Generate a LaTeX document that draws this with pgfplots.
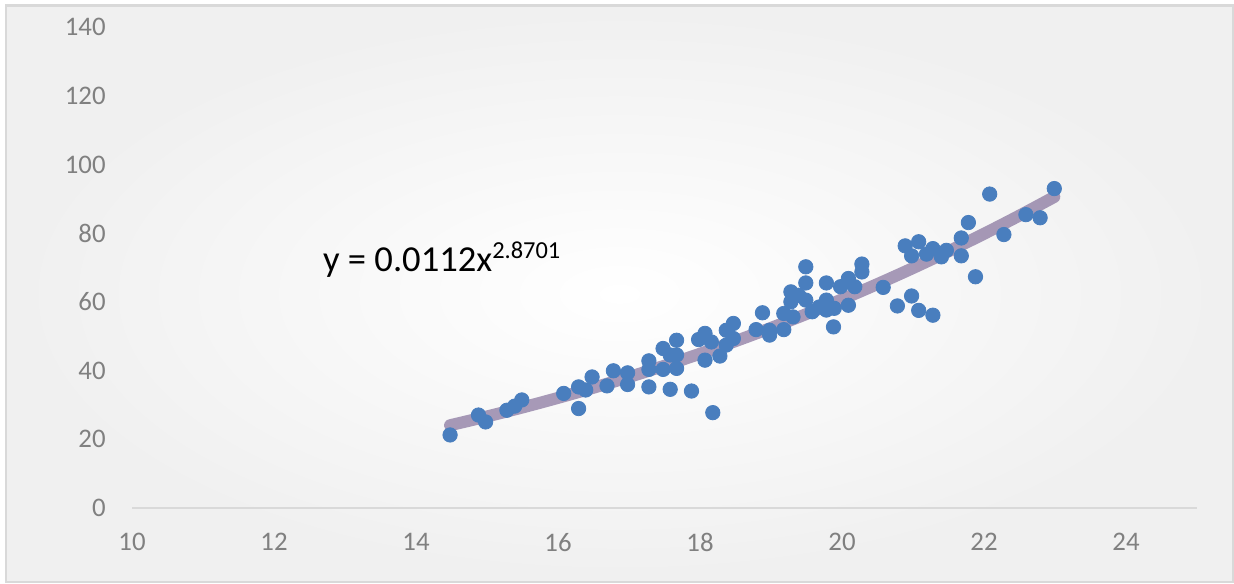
\documentclass[border=0pt]{standalone}
\usepackage{pgfplots}
\pgfplotsset{compat=1.18}
\usepackage{fontspec}
\setmainfont{Carlito}
\definecolor{dotblue}{RGB}{73,126,190}
\definecolor{trendc}{RGB}{100,75,130}
\definecolor{ticklab}{RGB}{128,128,128}
\definecolor{framec}{RGB}{217,217,217}
\begin{document}
\begin{tikzpicture}[x=1pt,y=1pt]
\path[use as bounding box] (0,0) rectangle (617,291.5);
\shade[inner color=white, outer color=black!6] (3,0.5) rectangle (616.5,288.75);
\draw[framec, line width=1.2pt] (3,0.5) rectangle (616.5,288.75);
\begin{axis}[
  at={(66pt,37.65pt)}, anchor=south west,
  width=532.5pt, height=240.2pt, scale only axis,
  xmin=10, xmax=25, ymin=0, ymax=140,
  xtick={10,12,...,24}, ytick={0,20,...,140},
  axis x line*=bottom, axis y line*=left,
  x axis line style={-, draw=framec, line width=1.2pt},
  y axis line style={draw=none},
  tick style={draw=none},
  ticklabel style={font=\fontsize{13.4}{16}\selectfont, text=ticklab, inner sep=0pt},
  xticklabel style={anchor=north, yshift=-12.65pt},
  yticklabel style={anchor=east, xshift=-13pt},
  /pgf/number format/assume math mode=true,
  clip=false,
]
\addplot[only marks, color=dotblue, mark=*, mark size=3.6pt, mark options={draw=none, fill=dotblue}] table {
x y
14.48 21.2
14.88 27.0
14.98 25.0
15.28 28.4
15.39 29.6
15.49 31.4
16.08 33.3
16.29 35.2
16.29 28.9
16.39 34.3
16.48 38.1
16.69 35.5
16.78 39.9
16.98 39.3
16.98 35.9
17.28 42.8
17.28 40.3
17.28 35.2
17.48 46.4
17.48 40.3
17.58 34.5
17.58 44.5
17.67 44.5
17.67 40.6
17.67 48.8
17.88 34.0
17.98 49.0
18.07 50.8
18.07 43.0
18.16 48.3
18.18 27.7
18.28 44.2
18.37 51.7
18.37 47.4
18.47 53.7
18.47 49.3
18.79 51.9
18.88 56.8
18.98 51.7
18.98 50.3
19.18 51.9
19.18 56.6
19.28 62.9
19.28 60.0
19.31 55.6
19.39 61.9
19.49 70.2
19.49 65.5
19.49 60.5
19.58 57.1
19.68 58.5
19.78 65.5
19.78 60.5
19.78 57.6
19.88 52.7
19.89 58.1
19.98 64.4
20.09 66.8
20.09 59.0
20.18 64.4
20.28 71.0
20.28 68.7
20.58 64.2
20.78 58.8
20.89 76.3
20.98 61.7
20.98 73.4
21.08 57.5
21.08 77.5
21.19 73.9
21.28 56.1
21.28 75.5
21.40 73.1
21.47 75.0
21.68 78.6
21.68 73.4
21.78 83.1
21.88 67.3
22.08 91.4
22.28 79.6
22.59 85.4
22.79 84.5
22.99 93.0
};
\addplot[trendc, opacity=0.55, line width=6pt, smooth, line cap=round] coordinates {
(14.48,24.03) (15,26.59) (15.5,29.21) (16,32.00) (16.5,34.96) (17,38.08)
(17.5,41.39) (18,44.87) (18.5,48.54) (19,52.40) (19.5,56.46) (20,60.72)
(20.5,65.18) (21,69.84) (21.5,74.72) (22,79.82) (22.5,85.14) (22.99,90.57)
};
\node[anchor=base west, font=\fontsize{18.3}{22}\selectfont, inner sep=0pt] at (axis cs:12.686,68.7) {y = 0.0112x\raisebox{6.6pt}{\fontsize{12.2}{14}\selectfont 2.8701}};
\end{axis}
\end{tikzpicture}
\end{document}
